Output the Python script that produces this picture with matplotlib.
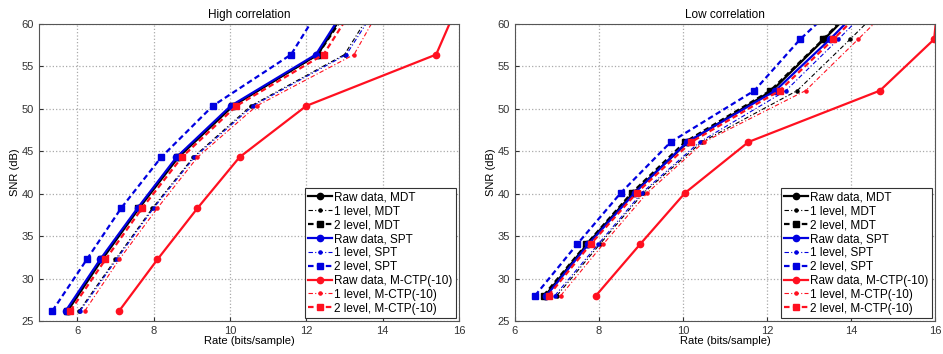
import matplotlib
matplotlib.use("Agg")
import matplotlib.pyplot as plt

plt.rcParams["font.family"] = ["Liberation Sans", "DejaVu Sans"]

labels = ["Raw data, MDT", "1 level, MDT", "2 level, MDT",
          "Raw data, SPT", "1 level, SPT", "2 level, SPT",
          "Raw data, M-CTP(-10)", "1 level, M-CTP(-10)", "2 level, M-CTP(-10)"]

# High correlation panel
snr_high = [26.2, 32.25, 38.3, 44.3, 50.35, 56.4, 62.4]
rate_high = [
    [5.75, 6.65, 7.62, 8.65, 10.08, 12.30, 13.13],   # raw MDT
    [6.05, 7.00, 7.97, 9.04, 10.55, 13.00, 13.83],   # 1 level MDT
    [5.72, 6.62, 7.60, 8.62, 10.05, 12.30, 13.20],   # 2 level MDT
    [5.70, 6.60, 7.58, 8.60, 10.02, 12.25, 13.10],   # raw SPT
    [6.08, 7.03, 8.00, 9.07, 10.60, 13.05, 13.90],   # 1 level SPT
    [5.35, 6.25, 7.15, 8.20, 9.55, 11.60, 12.43],    # 2 level SPT
    [7.10, 8.10, 9.15, 10.25, 12.00, 15.40, 15.98],  # raw M-CTP
    [6.20, 7.10, 8.10, 9.15, 10.70, 13.25, 14.00],   # 1 level M-CTP
    [5.82, 6.74, 7.70, 8.74, 10.17, 12.45, 13.30],   # 2 level M-CTP
]

# Low correlation panel
snr_low = [28.0, 34.05, 40.1, 46.1, 52.15, 58.2, 64.2]
rate_low = [
    [6.72, 7.72, 8.82, 10.12, 12.12, 13.36, 14.56],  # raw MDT
    [7.00, 8.02, 9.06, 10.45, 12.72, 13.98, 15.20],  # 1 level MDT
    [6.68, 7.70, 8.78, 10.05, 12.08, 13.34, 14.50],  # 2 level MDT
    [6.75, 7.75, 8.85, 10.10, 12.20, 13.50, 14.70],  # raw SPT
    [6.95, 7.98, 9.02, 10.40, 12.45, 13.70, 14.90],  # 1 level SPT
    [6.48, 7.48, 8.52, 9.71, 11.70, 12.79, 14.09],   # 2 level SPT
    [7.93, 8.98, 10.05, 11.56, 14.69, 15.98, 16.10], # raw M-CTP
    [7.09, 8.10, 9.15, 10.50, 12.92, 14.17, 15.40],  # 1 level M-CTP
    [6.80, 7.80, 8.90, 10.20, 12.30, 13.58, 14.80],  # 2 level M-CTP
]

colors = ["black", "#0000e0", "#ff1020"]
# (linestyle, marker, linewidth, markersize)
styles = [("-", "o", 1.6, 4.5), ((0, (4, 2, 1, 2)), ".", 0.8, 4.5),
          ((0, (2.5, 1.5)), "s", 1.6, 4.0)]

fig = plt.figure(figsize=(9.43, 3.54), dpi=100)
ax1 = fig.add_axes([0.0414, 0.0932, 0.4454, 0.839])
ax2 = fig.add_axes([0.5461, 0.0932, 0.4454, 0.839])


def draw(ax, snr, rates, title, xmin):
    for i, r in enumerate(rates):
        c = colors[i // 3]
        ls, mk, lw, ms = styles[i % 3]
        ax.plot(r, snr, linestyle=ls, marker=mk, color=c, lw=lw, ms=ms,
                label=labels[i])
    ax.set_xlim(xmin, 16)
    ax.set_ylim(25, 60)
    ax.set_xticks([6, 8, 10, 12, 14, 16])
    ax.set_yticks(range(25, 61, 5))
    ax.grid(True, linestyle=":", color="#aaaaaa", lw=0.9)
    ax.tick_params(direction="in", labelsize=8, length=3, colors="#333333")
    ax.set_title(title, fontsize=8.5, pad=4)
    ax.set_xlabel("Rate (bits/sample)", fontsize=8, labelpad=0)
    ax.set_ylabel("SNR (dB)", fontsize=8, labelpad=1)
    for s in ax.spines.values():
        s.set_color("#555555")
    leg = ax.legend(loc="lower right", fontsize=8.5, handlelength=2.0,
                    handletextpad=0.2, labelspacing=0.16, borderpad=0.3,
                    borderaxespad=0.25, fancybox=False, framealpha=1)
    leg.get_frame().set_edgecolor("#333333")
    leg.get_frame().set_linewidth(0.8)


draw(ax1, snr_high, rate_high, "High correlation", 5)
draw(ax2, snr_low, rate_low, "Low correlation", 6)

fig.savefig("out.png", dpi=100)
